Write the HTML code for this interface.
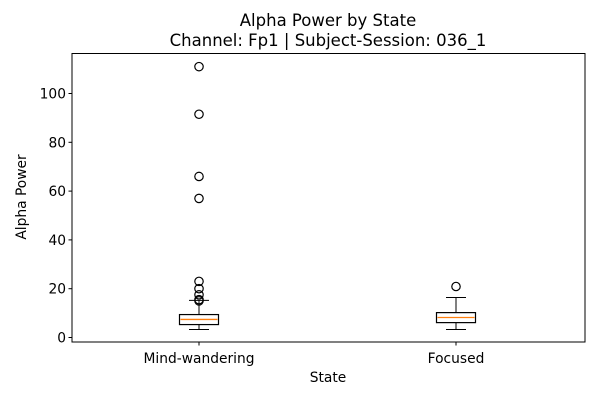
<!DOCTYPE html>
<html><head><meta charset="utf-8"><style>
body{margin:0;background:#fff;font-family:"Liberation Sans","DejaVu Sans",sans-serif;}
svg text{font-family:"DejaVu Sans","Liberation Sans",sans-serif;}
</style></head><body>
<svg id="chart" width="600" height="400"></svg>
<script>
const categories = ["Mind-wandering","Focused"];
const whiskerLow = [3.3, 3.3];
const q1 = [5.3, 6.1];
const medians = [7.4, 8.2];
const q3 = [9.4, 10.2];
const whiskerHigh = [15.2, 16.4];
const outliersMW = [111, 91.5, 66, 57, 23, 20, 17.5, 15.5, 15];
const outliersF = [20.9];
const yTicks = [0, 20, 40, 60, 80, 100];

const NS="http://www.w3.org/2000/svg";
const svg=document.getElementById('chart');
const L=72,R=585,T=53.5,B=342;
const y0=337.5,pxPer=2.44;
const y=v=>y0-v*pxPer;
const xc=[199,456];
function mk(t,a,p){const e=document.createElementNS(NS,t);for(const k in a)e.setAttribute(k,a[k]);(p||svg).appendChild(e);return e;}
function line(x1,y1,x2,y2,c,n,w){const e=mk('line',{x1,y1,x2,y2,stroke:c||'#000','stroke-width':w||1});


return e;}
function txt(s,x,yy,opt,n){const e=mk('text',Object.assign({x,y:yy,'font-size':13.8,fill:'#000'},opt));e.textContent=s;


return e;}

const frame=mk('rect',{x:L,y:T,width:R-L,height:B-T,fill:'none',stroke:'#000','stroke-width':1});



yTicks.forEach(t=>{const yy=y(t);line(L-3.5,yy,L,yy,'#000','y-tick');txt(String(t),L-6,yy+5,{'text-anchor':'end'},'y-tick-label');});

const outs=[outliersMW,outliersF];
categories.forEach((c,i)=>{
  const x=xc[i],hw=19.5,cap=10;
  line(x,B,x,B+3.5,'#000','x-tick');
  txt(c,x,B+21,{'text-anchor':'middle'},'x-tick-label');
  line(x,y(whiskerLow[i]),x,y(q1[i]),'#000','lower-whisker');
  line(x,y(q3[i]),x,y(whiskerHigh[i]),'#000','upper-whisker');
  line(x-cap,y(whiskerLow[i]),x+cap,y(whiskerLow[i]),'#000','lower-cap');
  line(x-cap,y(whiskerHigh[i]),x+cap,y(whiskerHigh[i]),'#000','upper-cap');
  const b=mk('rect',{x:x-hw,y:y(q3[i]),width:2*hw,height:y(q1[i])-y(q3[i]),fill:'none',stroke:'#000','stroke-width':1.2});
  
  
  line(x-hw+1,y(medians[i]),x+hw-1,y(medians[i]),'#ff7f0e','median-line',1.3);
  outs[i].forEach(v=>{const o=mk('circle',{cx:x,cy:y(v),r:4.2,fill:'none',stroke:'#000','stroke-width':1.2});
    
    });
});

txt('Alpha Power by State',328,26,{'text-anchor':'middle','font-size':16.5},'chart-title');
txt('Channel: Fp1 | Subject-Session: 036_1',328,46,{'text-anchor':'middle','font-size':16.5},'chart-subtitle');
txt('State',328,382,{'text-anchor':'middle'},'x-axis-title');
txt('Alpha Power',26,197,{'text-anchor':'middle',transform:'rotate(-90 26 197)'},'y-axis-title');
</script>
</body></html>
